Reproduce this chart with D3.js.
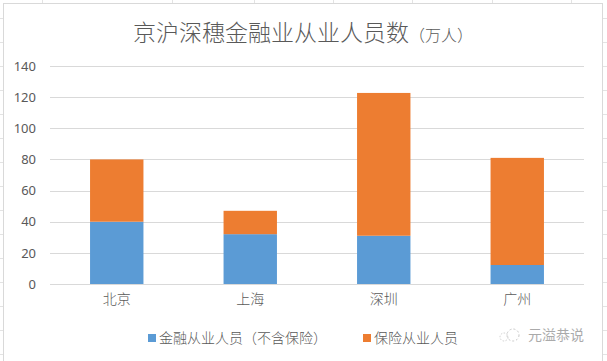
<!DOCTYPE html>
<html><head><meta charset="utf-8">
<script src="https://cdn.jsdelivr.net/npm/d3@7"></script>
<style>body{margin:0;background:#fff;}svg{display:block;font-family:"Noto Sans CJK SC","Microsoft YaHei",sans-serif;}</style>
</head><body>
<svg id="c" width="607" height="361"></svg>
<script>
const categories = ["北京","上海","深圳","广州"];
const financeExInsurance = [40, 32, 31, 12.2];
const insurance = [40, 15, 91.7, 68.8];
const seriesNames = ["金融从业人员（不含保险）","保险从业人员"];
const yTicks = [0,20,40,60,80,100,120,140];
const colors = ["#5B9BD5","#ED7D31"];

const svg = d3.select("#c");
const W = 607, H = 361;

// spreadsheet background grid
const gridCols = [42,172,254,333,412,492,571];
const gridRows = [18,42,66,90,114,138,162,186,210,234,258,282,306,330,354];
const bg = svg.append("g");
gridCols.forEach(x=>bg.append("line").attr("x1",x+0.5).attr("x2",x+0.5).attr("y1",0).attr("y2",H).attr("stroke","#e3e3e3"));
gridRows.forEach(y=>bg.append("line").attr("x1",0).attr("x2",W).attr("y1",y+0.5).attr("y2",y+0.5).attr("stroke","#e3e3e3"));
// chart area
svg.append("rect").attr("x",3.5).attr("y",3.5).attr("width",599).attr("height",362).attr("fill","#fff").attr("stroke","#d9d9d9");

const x = d3.scaleBand().domain(categories).range([50,584]).paddingInner(0.6).paddingOuter(0.3);
const y = d3.scaleLinear().domain([0,140]).range([284,66]);

// gridlines
svg.append("g").selectAll("line").data(yTicks).join("line")
  .attr("x1",50).attr("x2",584)
  .attr("y1",d=>Math.round(y(d))+0.5).attr("y2",d=>Math.round(y(d))+0.5)
  .attr("stroke","#d9d9d9");

// y axis labels
const yAxis = d3.axisLeft(y).tickValues(yTicks).tickSize(0).tickPadding(0);
const ya = svg.append("g").attr("transform","translate(36,0)").call(yAxis);
ya.select(".domain").remove();
ya.selectAll("text").attr("font-size",13).attr("fill","#595959").attr("font-family","'Noto Sans',sans-serif");

// stacked data
const rows = categories.map((c,i)=>({cat:c, a:financeExInsurance[i], b:insurance[i]}));
const stack = d3.stack().keys(["a","b"])(rows);
svg.append("g").selectAll("g").data(stack).join("g").attr("fill",(d,i)=>colors[i])
  .selectAll("rect").data(d=>d).join("rect")
  .attr("x",d=>x(d.data.cat)).attr("width",x.bandwidth())
  .attr("y",d=>y(d[1])).attr("height",d=>y(d[0])-y(d[1]));

// x axis labels
const xAxis = d3.axisBottom(x).tickSize(0).tickPadding(0);
const xa = svg.append("g").attr("transform","translate(0,294)").call(xAxis);
xa.select(".domain").remove();
xa.selectAll("text").attr("font-size",14).attr("fill","#595959").attr("font-weight",300)
  .attr("font-family","'Noto Sans CJK SC',sans-serif").attr("dy","0.71em");

// title
const t = svg.append("text").attr("x",303).attr("y",41).attr("text-anchor","middle").attr("fill","#595959").attr("font-weight",300);
t.append("tspan").attr("font-size",23).text("京沪深穗金融业从业人员数");
t.append("tspan").attr("font-size",16).text("（万人）");

// legend
const leg = [{x:148,name:seriesNames[0],c:colors[0]},{x:363,name:seriesNames[1],c:colors[1]}];
leg.forEach(l=>{
  svg.append("rect").attr("x",l.x).attr("y",334).attr("width",8).attr("height",8).attr("fill",l.c);
  svg.append("text").attr("x",l.x+11).attr("y",343).attr("font-size",14).attr("font-weight",300).attr("fill","#595959").text(l.name);
});

// watermark
const wm = svg.append("g").attr("opacity",0.55);
wm.append("circle").attr("cx",513).attr("cy",335).attr("r",6).attr("fill","none").attr("stroke","#999").attr("stroke-dasharray","2,2");
wm.append("circle").attr("cx",504).attr("cy",337).attr("r",4).attr("fill","none").attr("stroke","#aaa").attr("stroke-dasharray","1.5,1.5");
wm.append("text").attr("x",528).attr("y",340).attr("font-size",14).attr("fill","#666").text("元溢恭说");
</script>
</body></html>
